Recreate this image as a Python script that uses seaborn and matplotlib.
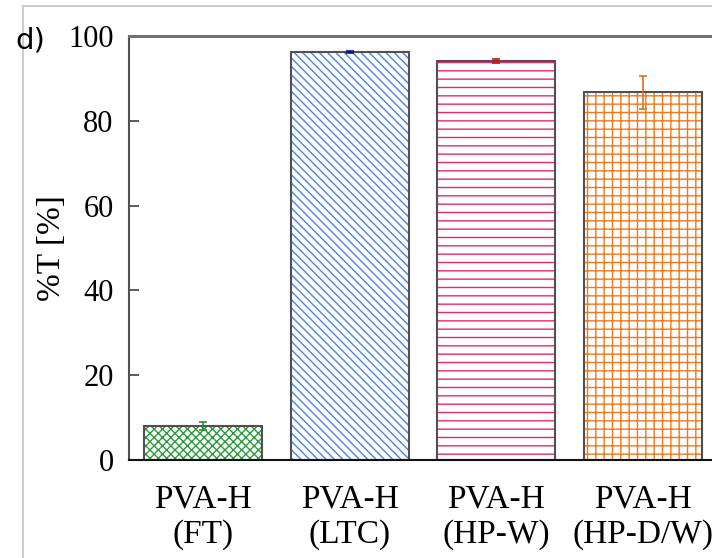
import matplotlib
matplotlib.use("Agg")
import matplotlib.pyplot as plt
import seaborn as sns
import pandas as pd
from matplotlib.patches import Rectangle
from matplotlib.lines import Line2D

categories = ["PVA-H\n(FT)", "PVA-H\n(LTC)", "PVA-H\n(HP-W)", "PVA-H\n(HP-D/W)"]
values = [8.0, 96.2, 94.1, 86.7]
errors = [1.0, 0.25, 0.5, 3.8]
hatch_colors = ["#2a9a3a", "#4a82e8", "#e8286a", "#f47818"]
err_colors = ["#2a8a3a", "#10108a", "#d01010", "#e07020"]
hatches = ["xxxx", "\\\\\\\\", "--", "++"]
yticks = [0, 20, 40, 60, 80, 100]

sns.set_theme(style="white")
plt.rcParams["font.family"] = ["Liberation Serif", "DejaVu Serif"]
plt.rcParams["hatch.linewidth"] = 1.0
plt.rcParams["text.color"] = "black"
plt.rcParams["axes.labelcolor"] = "black"
plt.rcParams["xtick.color"] = "black"
plt.rcParams["ytick.color"] = "black"

df = pd.DataFrame({"cat": categories, "val": values})

fig = plt.figure(figsize=(7.12, 5.58), dpi=100)
ax = fig.add_axes([129 / 712, 1 - 460 / 558, 587 / 712, 424 / 558])

sns.barplot(data=df, x="cat", y="val", ax=ax, width=0.805,
            color="white", errorbar=None, saturation=1)

for p, hc, h in zip(ax.patches, hatch_colors, hatches):
    p.set_facecolor("white")
    p.set_edgecolor(hc)
    p.set_hatch(h)
    p.set_linewidth(0)
    outline = Rectangle(p.get_xy(), p.get_width(), p.get_height(),
                        fill=False, edgecolor="#505050", linewidth=1.5, zorder=p.get_zorder() + 0.5)
    ax.add_patch(outline)

for i, (v, e, c) in enumerate(zip(values, errors, err_colors)):
    ax.errorbar(i, v, yerr=e, color=c, capsize=3, elinewidth=1.2, capthick=1.2, zorder=5)

ax.set_xlim(-0.505, 3.5)
ax.set_ylim(0, 100)
ax.set_yticks(yticks)
ax.set_yticklabels([str(t) for t in yticks])
ax.tick_params(axis="y", direction="in", length=7, width=1.2, color="#404040",
               pad=11, labelsize=22, left=True, labelcolor="black")
ax.tick_params(axis="x", length=0, pad=17, labelsize=24, labelcolor="black")
ax.set_xlabel("")
ax.set_ylabel("%T [%]", fontsize=24, color="black")
ax.yaxis.set_label_coords(-0.106, 0.5)

for side in ["left", "bottom", "top", "right"]:
    ax.spines[side].set_visible(True)
ax.spines["left"].set_color("#505050")
ax.spines["left"].set_linewidth(1.5)
ax.spines["bottom"].set_color("#111111")
ax.spines["bottom"].set_linewidth(1.5)
ax.spines["top"].set_color("#707070")
ax.spines["top"].set_linewidth(2.2)
ax.spines["right"].set_visible(False)

# outer light frame
fig.add_artist(Line2D([23 / 712, 23 / 712], [0, 1 - 6 / 558], transform=fig.transFigure,
                      color="#c4c4c4", linewidth=1.2))
fig.add_artist(Line2D([23 / 712, 1], [1 - 6 / 558, 1 - 6 / 558], transform=fig.transFigure,
                      color="#c4c4c4", linewidth=1.2))

fig.text(30 / 712, 1 - 41 / 558, "d)", fontsize=21, family=["DejaVu Sans"],
         ha="center", va="center", color="black")

fig.savefig("out.png", dpi=100)
